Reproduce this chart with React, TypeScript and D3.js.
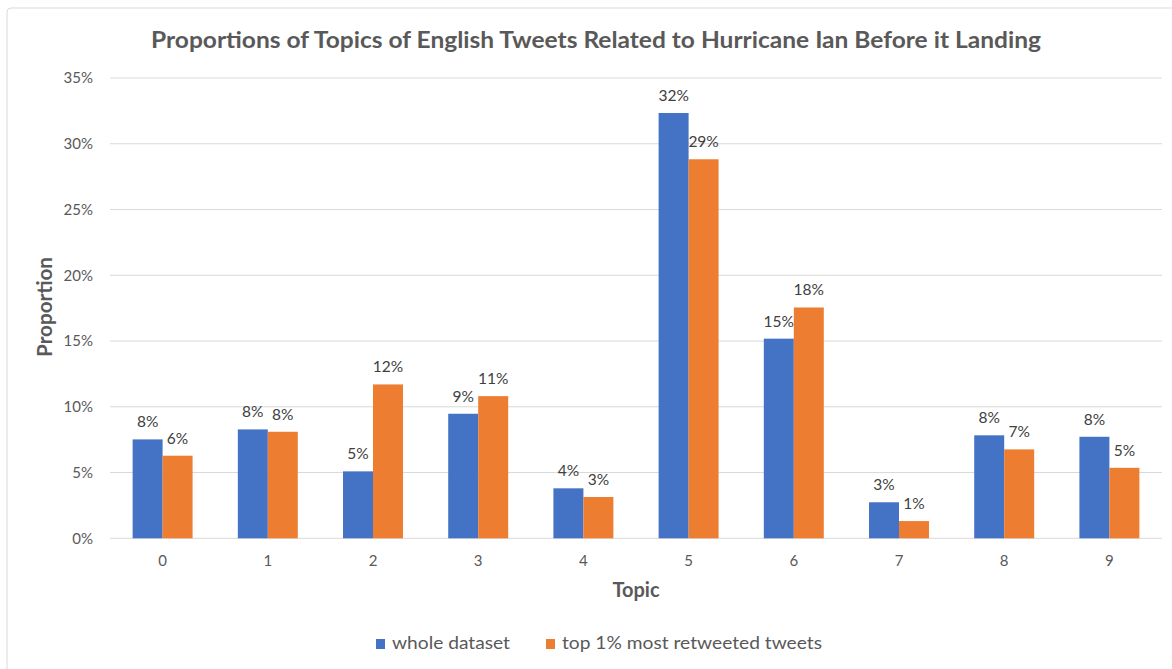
import React from "react";
import * as d3 from "d3";

const TOPICS = ["0", "1", "2", "3", "4", "5", "6", "7", "8", "9"];
const SERIES = ["whole dataset", "top 1% most retweeted tweets"];
const WHOLE_DATASET = [7.52, 8.28, 5.09, 9.47, 3.8, 32.34, 15.18, 2.74, 7.83, 7.72];
const TOP_RETWEETED = [6.28, 8.1, 11.7, 10.81, 3.14, 28.82, 17.55, 1.31, 6.76, 5.36];
const Y_TICKS = [0, 5, 10, 15, 20, 25, 30, 35];
const COLORS = ["#4472C4", "#ED7D31"];

const TITLE = "Proportions of Topics of English Tweets Related to Hurricane Ian Before it Landing";

const W = 1172;
const H = 669;
const FONT = "Lato, 'Open Sans', sans-serif";

export default function App() {
  const left = 110;
  const right = 1162;
  const top = 78;
  const bottom = 538.3;

  const x0 = d3
    .scaleBand<string>()
    .domain(TOPICS)
    .range([left, right])
    .paddingInner(0.43)
    .paddingOuter(0.215);
  const x1 = d3.scaleBand<string>().domain(SERIES).range([0, x0.bandwidth()]);
  const y = d3.scaleLinear().domain([0, 35]).range([bottom, top]);

  const seriesValues = [WHOLE_DATASET, TOP_RETWEETED];

  return (
    <svg
      width={W}
      height={H}
      style={{ position: "fixed", left: 0, top: 0, background: "#fff" }}
      fontFamily={FONT}
    >
      <rect x={7} y={8} width={W + 20} height={H + 20} rx={4} fill="#fff" stroke="#d9d9d9" />

      <text
        x={596}
        y={48}
        textAnchor="middle"
        fontSize={22}
        fontWeight="bold"
        fill="#595959"
        textLength={890}
        lengthAdjust="spacingAndGlyphs"
      >
        {TITLE}
      </text>

      {Y_TICKS.map((t) => (
        <g key={t}>
          <line x1={left} x2={right} y1={y(t)} y2={y(t)} stroke="#d9d9d9" strokeWidth={1} />
          <text x={93} y={y(t)} dy="0.35em" textAnchor="end" fontSize={15} fill="#595959">
            {t}%
          </text>
        </g>
      ))}

      {TOPICS.map((topic, i) => (
        <g key={topic}>
          {SERIES.map((s, j) => {
            const v = seriesValues[j][i];
            const bx = (x0(topic) as number) + (x1(s) as number);
            const bw = x1.bandwidth();
            return (
              <g key={s}>
                <rect x={bx} y={y(v)} width={bw} height={y(0) - y(v)} fill={COLORS[j]} />
                <text
                  x={bx + bw / 2}
                  y={y(v) - 12}
                  textAnchor="middle"
                  fontSize={15.5}
                  fill="#404040"
                >
                  {Math.round(v)}%
                </text>
              </g>
            );
          })}
          <text
            x={(x0(topic) as number) + x0.bandwidth() / 2}
            y={566}
            textAnchor="middle"
            fontSize={15}
            fill="#595959"
          >
            {topic}
          </text>
        </g>
      ))}

      <text x={636} y={597} textAnchor="middle" fontSize={20} fontWeight="bold" fill="#595959">
        Topic
      </text>
      <text
        transform="translate(52,307) rotate(-90)"
        textAnchor="middle"
        fontSize={20}
        fontWeight="bold"
        fill="#595959"
        textLength={100}
        lengthAdjust="spacingAndGlyphs"
      >
        Proportion
      </text>

      <g>
        <rect x={376} y={639} width={9} height={10} fill={COLORS[0]} />
        <text x={392} y={649} fontSize={17} fill="#595959" textLength={118} lengthAdjust="spacingAndGlyphs">
          {SERIES[0]}
        </text>
        <rect x={546} y={639} width={9} height={10} fill={COLORS[1]} />
        <text x={562} y={649} fontSize={17} fill="#595959" textLength={260} lengthAdjust="spacingAndGlyphs">
          {SERIES[1]}
        </text>
      </g>
    </svg>
  );
}
